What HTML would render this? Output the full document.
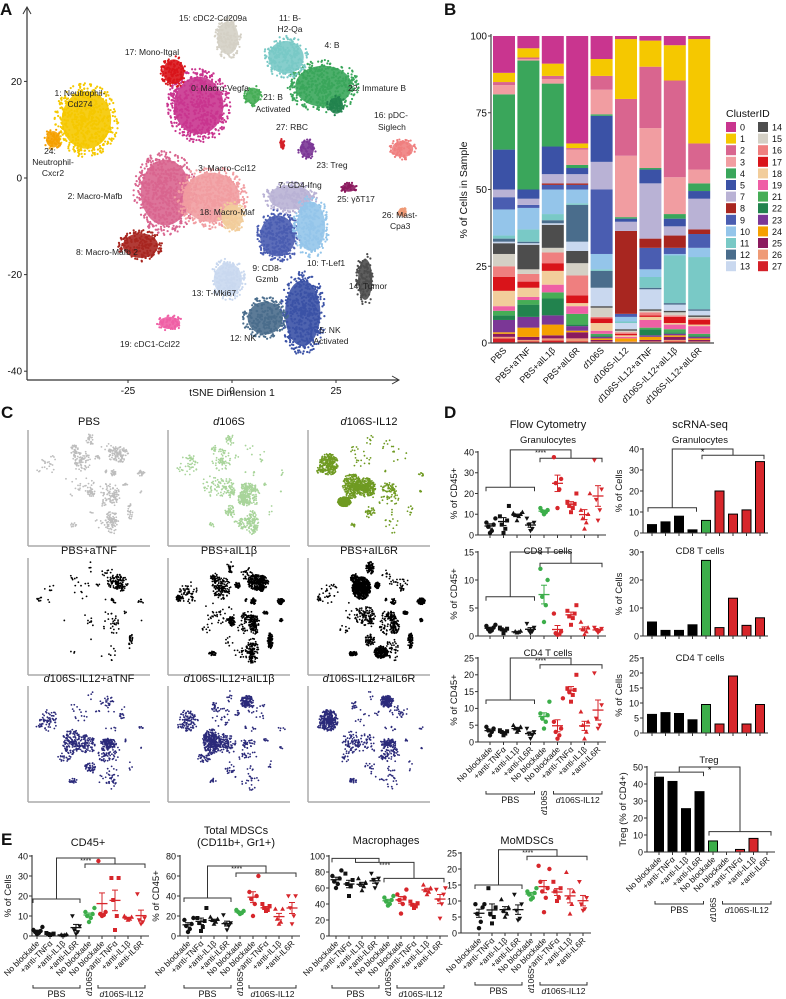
<!DOCTYPE html>
<html><head><meta charset="utf-8"><style>
html,body{margin:0;padding:0;background:#fff;}
svg{display:block;font-family:"Liberation Sans",Arial,sans-serif;}
</style></head><body>
<svg id="fig" width="786" height="999" viewBox="0 0 786 999" xmlns="http://www.w3.org/2000/svg"></svg>
<script>
// ---------- DATA ----------
const clusterIds = [0,1,2,3,4,5,7,8,9,10,11,12,13,14,15,16,17,18,19,21,22,23,24,25,26,27];
const clusterColors = ["#c9358f","#f5c800","#d9658f","#f19da1","#3aa65b","#3b52a6","#b9b2d5","#a82620","#4a5db1","#94c5ea","#79c9c6","#4a6d8c","#c9d8ef","#4d4d4d","#d4d0c5","#ef7f7f","#d9141a","#f2cd9b","#ef5fa5","#46ad56","#22834e","#7b3796","#f5a000","#8b1a5e","#ef9a76","#d42028"];
const sampleNames = ["PBS","PBS+aTNF","PBS+aIL1β","PBS+aIL6R","d106S","d106S-IL12","d106S-IL12+aTNF","d106S-IL12+aIL1β","d106S-IL12+aIL6R"];
const compPBS      = [12,3,1,3,18,13,2.5,0,4,8.5,1,1,0.5,3.5,4,3.5,4.5,5,1.5,1.5,1.5,4,0.5,1,0.5,1.5];
const compPBSaTNF  = [4,3,0.5,0.5,42,3,2,0,1,7,4,0.5,0.5,8,1.5,2.5,2,3,1,1.5,4,3.5,3,1,0.5,0.5];
const compPBSaIL1b = [9,4,1,1.5,20.5,9,3,0.5,1.5,8,2,1,0.5,7.5,1.5,3.5,2.5,4.5,2.5,2,5.5,3,3.5,1,0.7,0.8];
const compPBSaIL6R = [35,1.5,0.5,5,1,2,3,0.5,1.5,4.5,0.5,12,3,4,4,6.5,2.5,1,2.5,3.5,0.5,1.5,0.5,2,1,0.5];
const compD106S    = [7.5,5.5,4.5,8,0.5,15,9,0,21,5,0.5,5.5,6,0.5,3,0.5,1.5,2.5,1,0.5,0.5,0.5,0.5,0.5,0.2,0.3];
const compIL12     = [1,19.5,18.5,20,0.5,1,3,27,1,1.5,0.5,0,2,0.5,0.5,0.5,0.5,0.5,0.5,0,0,0,1,0,0.3,0.2];
const compIL12aTNF = [1.5,8.5,20,13,0.5,4.5,18,3,7,2.5,3.5,0.5,6.5,0.5,0.5,1,0.5,1,2.5,0.5,2,0.5,1,0.5,0.3,0.2];
const compIL12aIL1b= [3,11.5,31.5,12,1.5,2.5,3,4,2,0.5,15.5,0.5,2,0.5,1,0.5,2,0.5,1.5,1,0.5,0.5,0.5,1,0.5,0.5];
const compIL12aIL6R= [1,34,8.5,4.5,2.5,2.5,10,1.5,4.5,3,17,0.5,1.5,0.5,0.5,0.5,1.5,0.5,2.5,0.5,0.5,0.5,0.5,0.5,0.3,0.2];
const sampleComps = [compPBS,compPBSaTNF,compPBSaIL1b,compPBSaIL6R,compD106S,compIL12,compIL12aTNF,compIL12aIL1b,compIL12aIL6R];
const bTicks = [0,25,50,75,100];

const blobX  = [-8,-35,-16,-5,22,17,14,-22,11,19,13,8,-1,32,-1,41,-14,0,-15,5,25,18,-43,28,41,12];
const blobY  = [15,12,-3,-4,19,-28,-4,-14,-12,-10,25,-29,-21,-21,29,6,22,-8,-30,17,15,6,8,-2,-7,7];
const blobSX = [7,7,7,8,8,5,6,5,5,4,5,5,4,2,3,3,3,3,3,2,2,2,2,2,1.2,0.6];
const blobSY = [7,7,8,6,5,8,3,3,5,6,4,4,4,5,4,2,3,3,1.5,2,2,2,2,1,1,1];

const grpLabels = ["No blockade","+anti-TNFα","+anti-IL1β","+anti-IL6R","No blockade","No blockade","+anti-TNFα","+anti-IL1β","+anti-IL6R"];
const granFlow = [[1,2,4,5,6,8],[1,3,5,7,9,14],[7,9,9.5,10,10.5,11],[2,3,5,6,8],[10,11,11.5,12,13],[13,22,25,27,37.5],[11,13,14,15,16,20],[3,6,8,10,12,20],[7,12,17,22,36]];
const cd8Flow  = [[0.8,1,1.2,1.5,1.8,2],[0.5,1,1.2,1.3,1.5],[0.6,0.7,0.8,0.9],[0.5,0.8,1,1.5,2.2],[2.5,5.5,7,10,12],[0.2,0.3,0.5,0.8,4],[2,3.2,3.5,4,4.5,5.5],[0.3,0.8,1.2,1.5,2.5],[0.6,0.9,1.1,1.3,1.5]];
const cd4Flow  = [[2,3,3.5,4,4.5],[2,2.5,3,3.2,3.5],[3,3.5,4,4.5,5],[1,2,2.5,3,4],[4,6,7,8,8.5,12],[1,2,3,4,6,13],[12,14,15,15.5,16,20],[1,3,5,6,9],[4,5,7,11,20.5]];
const granSc = [4,5.3,8,1.5,6,20,9,11,34];
const cd8Sc  = [5,2,2,4,27,3,13.5,3.8,6.5];
const cd4Sc  = [6.2,6.8,6.5,4.4,9.5,3,19,3,9.5];
const tregSc = [44,41.5,25.5,35.5,6.5,0,1.5,8,0];
const cd45E  = [[1,1.5,2,2.5,3,4.5],[0.5,0.8,1,1.2,1.5],[0.3,0.5,0.6,0.8],[1,2,3,5,10],[7,9,10,11,12,14],[10,10.5,11,12,37.5],[3,10,18,29,29],[8,8.5,9,9.5,10],[6,7,8,9,21]];
const mdscE  = [[4,7,10,12,16,18],[5,9,13,15,18,28],[12,14,16,17,19],[6,10,12,13,21],[22,23,24,25,26],[20,32,37,40,44,60],[25,26,28,30,32],[12,14,17,27,27],[12,20,28,40,40]];
const macroE = [[60,65,68,72,75,82],[50,62,65,70,78],[57,62,65,67,72],[60,65,70,72,78],[38,40,43,45,48,50],[28,40,45,48,52,58],[35,37,39,41,43],[52,55,57,60,64],[22,40,45,52,58,60]];
const momdscE= [[1.5,3.5,6,8,9,9],[3,5,6,8,14],[5,6,7,8,10.5],[4,4.5,7,9,12],[10.5,11,12,12.5,13,14],[6.5,11,13,14,16,20,21],[10,11,13,14,16],[6,9,11,13,19],[7,7.5,9,11,16]];

// ---------- HELPERS ----------
const NS="http://www.w3.org/2000/svg";
const svg=document.getElementById('fig');
function tag(el,name,inter){
  
  
  return el;
}
function mk(t,a,p){const e=document.createElementNS(NS,t);for(const k in a)e.setAttribute(k,a[k]);(p||svg).appendChild(e);return e;}
function grp(name){const g=mk('g',{});tag(g,name);return g;}
function line(p,x1,y1,x2,y2,c,w){return mk('line',{x1,y1,x2,y2,stroke:c||'#222','stroke-width':w||1},p);}
function txt(p,x,y,s,o){o=o||{};const e=mk('text',{x,y,'font-size':o.fs||9,'text-anchor':o.a||'middle',fill:o.c||'#111'},p);
  if(o.rot!==undefined)e.setAttribute('transform','rotate('+o.rot+' '+x+' '+y+')');
  if(o.fw)e.setAttribute('font-weight',o.fw); if(o.it)e.setAttribute('font-style','italic');
  e.textContent=s;return e;}
function rng(seed){return function(){seed|=0;seed=seed+0x6D2B79F5|0;let t=Math.imul(seed^seed>>>15,1|seed);t=t+Math.imul(t^t>>>7,61|t)^t;return((t^t>>>14)>>>0)/4294967296;};}
function richLabel(p,x,y,s,fs,rot,anchor){
  const e=mk('text',{x,y,'font-size':fs,'text-anchor':anchor||'end',fill:'#111'},p);
  if(rot!==undefined)e.setAttribute('transform','rotate('+rot+' '+x+' '+y+')');
  if(s[0]==='d'&&s[1]==='1'){const t1=mk('tspan',{'font-style':'italic'},e);t1.textContent='d';const t2=mk('tspan',{},e);t2.textContent=s.slice(1);}
  else e.textContent=s;
  return e;}

[['A',0,15],['B',444,15],['C',1,418],['D',444,418],['E',1,845]].forEach(function(l){
  const t=txt(svg,l[1],l[2],l[0],{fs:17,a:'start',fw:'bold'});
  tag(t,'panel-letter-'+l[0].toLowerCase());
});

// ---------- PANEL A ----------
(function(){
  const g=grp('panel-a-tsne');
  const X0=232,KX=4.16,Y0=178,KY=4.83;
  const sx=v=>X0+v*KX, sy=v=>Y0-v*KY;
  line(g,27,380,398,380,'#333',1.2); line(g,27,380,27,8,'#333',1.2);
  mk('path',{d:'M23,14 L27,7 L31,14',fill:'none',stroke:'#333'},g);
  mk('path',{d:'M392,376 L399,380 L392,384',fill:'none',stroke:'#333'},g);
  [20,0,-20,-40].forEach(v=>{line(g,24,sy(v),27,sy(v),'#333');const t=txt(g,22,sy(v)+3.5,String(v),{fs:10,a:'end'});tag(t,'y-tick-label');});
  [-25,0,25].forEach(v=>{line(g,sx(v),380,sx(v),383,'#333');const t=txt(g,sx(v),394,String(v),{fs:10});tag(t,'x-tick-label');});
  const xt=txt(g,232,396,'tSNE Dimension 1',{fs:10.5});tag(xt,'x-axis-title');
  const r=rng(7);
  clusterIds.forEach((id,i)=>{
    const cx=sx(blobX[i]),cy=sy(blobY[i]),rx=blobSX[i]*KX,ry=blobSY[i]*KY;
    const e=mk('ellipse',{cx,cy,rx:rx*0.85,ry:ry*0.85,fill:clusterColors[i],opacity:0.9},g);
    tag(e,'cluster-'+id);
    const n=Math.round(rx*ry*0.55)+10;
    for(let k=0;k<n;k++){const a=r()*6.283,d=Math.pow(r(),0.6)*1.1;
      mk('circle',{cx:cx+Math.cos(a)*d*rx,cy:cy+Math.sin(a)*d*ry,r:1.1,fill:clusterColors[i]},g);}
  });
  const labs=[["15: cDC2-Cd209a",213,21],["11: B-",290,21],["H2-Qa",290,32],["4: B",332,48],["17: Mono-Itgal",152,55],["0: Macro-Vegfa",220,91],["22: Immature B",348,91,'start'],["1: Neutrophil-",80,96],["Cd274",80,107],["21: B",273,100],["Activated",273,112],["27: RBC",292,130],["16: pDC-",374,118,'start'],["Siglech",378,130,'start'],["24:",50,154],["Neutrophil-",53,165],["Cxcr2",53,176],["3: Macro-Ccl12",227,171],["23: Treg",332,168],["7: CD4-Ifng",300,188],["25: γδT17",356,202],["2: Macro-Mafb",95,199],["18: Macro-Maf",227,215],["26: Mast-",382,218,'start'],["Cpa3",390,229,'start'],["8: Macro-Mafb 2",107,255],["10: T-Lef1",326,266],["9: CD8-",267,271],["Gzmb",267,282],["13: T-Mki67",214,296],["14: Tumor",368,289],["5: NK",330,333],["Activated",331,344],["12: NK",243,341],["19: cDC1-Ccl22",150,347]];
  labs.forEach(l=>{const t=txt(g,l[1],l[2],l[0],{fs:8.5,a:l[3]||'middle',c:'#222'});tag(t,'cluster-label');});
})();

// ---------- PANEL B ----------
(function(){
  const g=grp('panel-b-stacked-bar');
  const yTop=36,yBot=343,xL=491;
  const ys=v=>yBot-(yBot-yTop)*v/100;
  sampleComps.forEach((comp,b)=>{
    const tot=comp.reduce((a,c)=>a+c,0);
    const x=493+b*24.4; let acc=0;
    for(let i=comp.length-1;i>=0;i--){
      const v=comp[i]/tot*100; if(v<=0)continue;
      const rc=mk('rect',{x,y:ys(acc+v),width:22,height:Math.max(0,ys(acc)-ys(acc+v)),fill:clusterColors[i]},g);
      tag(rc,'bar-segment-'+clusterIds[i]);
      acc+=v;
    }
    const t=richLabel(g,x+14,351,sampleNames[b],9,-45,'end');tag(t,'x-tick-label');
  });
  line(g,xL,yTop-2,xL,yBot,'#444',1.2); line(g,xL,yBot,714,yBot,'#444',1.2);
  bTicks.forEach(v=>{line(g,xL-3,ys(v),xL,ys(v),'#444');const t=txt(g,xL-4,ys(v)+3.5,String(v),{fs:10,a:'end'});tag(t,'y-tick-label');});
  const yl=txt(g,467,190,'% of Cells in Sample',{fs:10.5,rot:-90});tag(yl,'y-axis-title');
  const lt=txt(g,726,117,'ClusterID',{fs:10.5,a:'start'});tag(lt,'legend-title');
  clusterIds.forEach((id,i)=>{
    const col=i<13?0:1,row=i<13?i:i-13;
    const x=726+col*32,y=122+row*11.6;
    const s=mk('rect',{x,y,width:10,height:10,fill:clusterColors[i]},g);tag(s,'legend-swatch');
    const t=txt(g,x+14,y+8.5,String(id),{fs:9,a:'start'});tag(t,'legend-entry');
  });
})();

// ---------- PANEL C ----------
(function(){
  const g=grp('panel-c-sample-tsne');
  const order=[0,4,5,1,2,3,6,7,8];
  const titles=["PBS","d106S","d106S-IL12","PBS+aTNF","PBS+aIL1β","PBS+aIL6R","d106S-IL12+aTNF","d106S-IL12+aIL1β","d106S-IL12+aIL6R"];
  const cols=["#bdbdbd","#a8d49a","#6f9a22","#000","#000","#000","#2b2a7a","#2b2a7a","#2b2a7a"];
  const counts=[650,800,1500,280,1500,2000,700,900,900];
  const lefts=[28,168,308],tops=[430,558,686],bots=[546,675,802],ttl=[428,557,685];
  const r=rng(11);
  for(let k=0;k<9;k++){
    const c=k%3,rw=Math.floor(k/3),L=lefts[c],T=tops[rw],B=bots[rw];
    const sub=grp('tsne-'+titles[k]);
    line(sub,L,T,L,B,'#aaa',1.5);line(sub,L,B,L+122,B,'#aaa',1.5);
    const t=richLabel(sub,L+61,ttl[rw]-3,titles[k],11,undefined,'middle');tag(t,'panel-title');
    const comp=sampleComps[order[k]],tot=comp.reduce((a,b)=>a+b,0);
    const mx=v=>L+6+(v+47)/92*112, my=v=>T+4+(33-v)/75*(B-T-8);
    comp.forEach((w,i)=>{
      const n=Math.round(counts[k]*w/tot);
      for(let j=0;j<n;j++){const a=r()*6.283,d=Math.pow(r(),0.7)*1.1;
        mk('circle',{cx:mx(blobX[i]+Math.cos(a)*d*blobSX[i]),cy:my(blobY[i]+Math.sin(a)*d*blobSY[i]),r:0.9,fill:cols[k]},sub);}
    });
  }
})();

// ---------- DOT PLOT ----------
const dotColors=['#111','#111','#111','#111','#3cae4a','#d7262b','#d7262b','#d7262b','#d7262b'];
const shapes=['c','s','u','d','c','c','s','u','d'];
function marker(p,x,y,sh,col){
  if(sh==='c')return mk('circle',{cx:x,cy:y,r:2.2,fill:col},p);
  if(sh==='s')return mk('rect',{x:x-2,y:y-2,width:4,height:4,fill:col},p);
  if(sh==='u')return mk('path',{d:`M${x},${y-2.5}L${x+2.4},${y+1.8}L${x-2.4},${y+1.8}Z`,fill:col},p);
  return mk('path',{d:`M${x},${y+2.5}L${x+2.4},${y-1.8}L${x-2.4},${y-1.8}Z`,fill:col},p);
}
function axesAndBrackets(g,c,ys,gx){
  const xEnd=gx(8)+8;
  line(g,c.axX,c.yTop-1,c.axX,c.yBot,'#333',1.1);line(g,c.axX,c.yBot,xEnd,c.yBot,'#333',1.1);
  c.ticks.forEach(v=>{line(g,c.axX-3,ys(v),c.axX,ys(v),'#333');const t=txt(g,c.axX-4,ys(v)+3.3,String(v),{fs:9,a:'end'});tag(t,'y-tick-label');});
  for(let i=0;i<9;i++)line(g,gx(i),c.yBot,gx(i),c.yBot+3,'#333');
  if(c.ylabel){const t=txt(g,c.axX-21,(c.yTop+c.yBot)/2,c.ylabel,{fs:9.5,rot:-90});tag(t,'y-axis-title');}
  if(c.title){c.title.forEach((s,i)=>{const t=txt(g,c.tx,c.ty+i*12,s,{fs:c.tfs||10});tag(t,'chart-title');});}
  const br=c.br; if(br){
    const lY=ys(br[0]),rY=ys(br[1]),tY=ys(br[2]);
    const l1=gx(0)-4,l2=gx(3)+4,r1=gx(4)-4,r2=gx(8)+4,lm=(l1+l2)/2,rm=(r1+r2)/2;
    const b=mk('path',{d:`M${l1},${lY+4}V${lY}H${l2}V${lY+4}M${r1},${rY+4}V${rY}H${r2}V${rY+4}M${lm},${lY}V${tY}H${rm}V${rY}`,fill:'none',stroke:'#333','stroke-width':1},g);
    tag(b,'significance-bracket');
    const s=txt(g,(lm+rm)/2,tY+(br[3]==='*'?6:5),br[3],{fs:br[3]==='*'?9:7});tag(s,'significance-stars');
  }
  if(c.xlabels){
    grpLabels.forEach((s,i)=>{const t=txt(g,gx(i)+3,c.yBot+8,s,{fs:8.3,a:'end',rot:-45});tag(t,'x-tick-label');});
    const by=c.yBot+52;
    const b=mk('path',{d:`M${gx(0)-4},${by-3}V${by}H${gx(3)+4}V${by-3}M${gx(5)-4},${by-3}V${by}H${gx(8)+4}V${by-3}`,fill:'none',stroke:'#333'},g);
    tag(b,'group-bracket');
    const p=txt(g,(gx(0)+gx(3))/2,by+9,'PBS',{fs:9});tag(p,'group-label-pbs');
    const q=richLabel(g,(gx(5)+gx(8))/2,by+9,'d106S-IL12',8.5,undefined,'middle');tag(q,'group-label-d106s-il12');
    const d=richLabel(g,gx(4)+3,by+(c.dY||21),'d106S',8.5,-90,'start');tag(d,'group-label-d106s');
  }
}
function dotPlot(c,values){
  const g=grp(c.name);
  const ys=v=>c.yBot-(c.yBot-c.yTop)*v/c.vmax, gx=i=>c.first+i*c.step;
  axesAndBrackets(g,c,ys,gx);
  values.forEach((arr,i)=>{
    const n=arr.length,mean=arr.reduce((a,b)=>a+b,0)/n;
    const sd=Math.sqrt(arr.reduce((a,b)=>a+(b-mean)*(b-mean),0)/(n-1)),se=sd/Math.sqrt(n);
    arr.forEach((v,j)=>{const off=((j%2)?1:-1)*Math.ceil(j/2)*1.8;const m=marker(g,gx(i)+off,ys(v),shapes[i],dotColors[i]);tag(m,'data-point');});
    const col=dotColors[i];
    const ml=line(g,gx(i)-5.5,ys(mean),gx(i)+5.5,ys(mean),col,1.3);tag(ml,'mean-line');
    const ev=line(g,gx(i),ys(mean+se),gx(i),ys(mean-se),col,1);tag(ev,'error-bar');
    line(g,gx(i)-3,ys(mean+se),gx(i)+3,ys(mean+se),col,1);line(g,gx(i)-3,ys(mean-se),gx(i)+3,ys(mean-se),col,1);
  });
}
function barPlot(c,values){
  const g=grp(c.name);
  const ys=v=>c.yBot-(c.yBot-c.yTop)*v/c.vmax, gx=i=>c.first+i*c.step;
  values.forEach((v,i)=>{const r=mk('rect',{x:gx(i)-4.5,y:ys(v),width:9,height:c.yBot-ys(v),fill:dotColors[i]==='#111'?'#000':dotColors[i],stroke:'#000','stroke-width':1},g);tag(r,'bar-'+i);});
  axesAndBrackets(g,c,ys,gx);
}

(function(){const g=grp('panel-d-headers');
  const a=txt(g,548,428,'Flow Cytometry',{fs:11});tag(a,'flow-cytometry-title');
  const b=txt(g,700,428,'scRNA-seq',{fs:11});tag(b,'scrna-seq-title');})();

dotPlot({name:'granulocytes-flow',axX:478,yTop:452,yBot:535,vmax:40,ticks:[0,10,20,30,40],first:490,step:13.5,ylabel:'% of CD45+',title:['Granulocytes'],tx:548,ty:443,tfs:9.5,br:[23,37,41,'****']},granFlow);
dotPlot({name:'cd8-flow',axX:478,yTop:552,yBot:636,vmax:15,ticks:[0,5,10,15],first:490,step:13.5,ylabel:'% of CD45+',title:['CD8 T cells'],tx:548,ty:554,tfs:9.5,br:[7,13,15,'*']},cd8Flow);
dotPlot({name:'cd4-flow',axX:478,yTop:658,yBot:742,vmax:25,ticks:[0,5,10,15,20,25],first:490,step:13.5,ylabel:'% of CD45+',title:['CD4 T cells'],tx:548,ty:656,tfs:9.5,br:[12.5,23,25,'****'],xlabels:true,dY:21},cd4Flow);

barPlot({name:'granulocytes-scrna',axX:643,yTop:449,yBot:533,vmax:40,ticks:[0,10,20,30,40],first:652,step:13.5,ylabel:'% of Cells',title:['Granulocytes'],tx:700,ty:443,tfs:9.5,br:[12,37,40,'*']},granSc);
barPlot({name:'cd8-scrna',axX:643,yTop:552,yBot:636,vmax:30,ticks:[0,10,20,30],first:652,step:13.5,ylabel:'% of Cells',title:['CD8 T cells'],tx:700,ty:554,tfs:9.5},cd8Sc);
barPlot({name:'cd4-scrna',axX:643,yTop:658,yBot:733,vmax:25,ticks:[0,5,10,15,20,25],first:652,step:13.5,ylabel:'% of Cells',title:['CD4 T cells'],tx:700,ty:661,tfs:9.5},cd4Sc);
barPlot({name:'treg-scrna',axX:647,yTop:767,yBot:852,vmax:50,ticks:[0,10,20,30,40,50],first:659,step:13.5,ylabel:'Treg (% of CD4+)',title:['Treg'],tx:709,ty:763,tfs:9.5,br:[47,12,50,'*'],xlabels:true,dY:18},tregSc);

dotPlot({name:'cd45-e',axX:32,yTop:856,yBot:936,vmax:40,ticks:[0,10,20,30,40],first:37,step:13,ylabel:'% of Cells',title:['CD45+'],tx:88,ty:846,tfs:11,br:[18.5,36,39,'****'],xlabels:true,dY:8},cd45E);
dotPlot({name:'mdsc-e',axX:180,yTop:856,yBot:936,vmax:80,ticks:[0,20,40,60,80],first:188,step:13,ylabel:'% of CD45+',title:['Total MDSCs','(CD11b+, Gr1+)'],tx:236,ty:834,tfs:11,br:[38,63,70,'****'],xlabels:true,dY:8},mdscE);
dotPlot({name:'macrophages-e',axX:329,yTop:856,yBot:936,vmax:100,ticks:[0,20,40,60,80,100],first:336,step:13,title:['Macrophages'],tx:386,ty:844,tfs:11,br:[97,72,92,'****'],xlabels:true,dY:8},macroE);
dotPlot({name:'momdsc-e',axX:461,yTop:853,yBot:933,vmax:25,ticks:[0,5,10,15,20,25],first:479,step:13,title:['MoMDSCs'],tx:527,ty:844,tfs:11,br:[15,24,26,'****'],xlabels:true,dY:8},momdscE);
</script>
</body></html>
